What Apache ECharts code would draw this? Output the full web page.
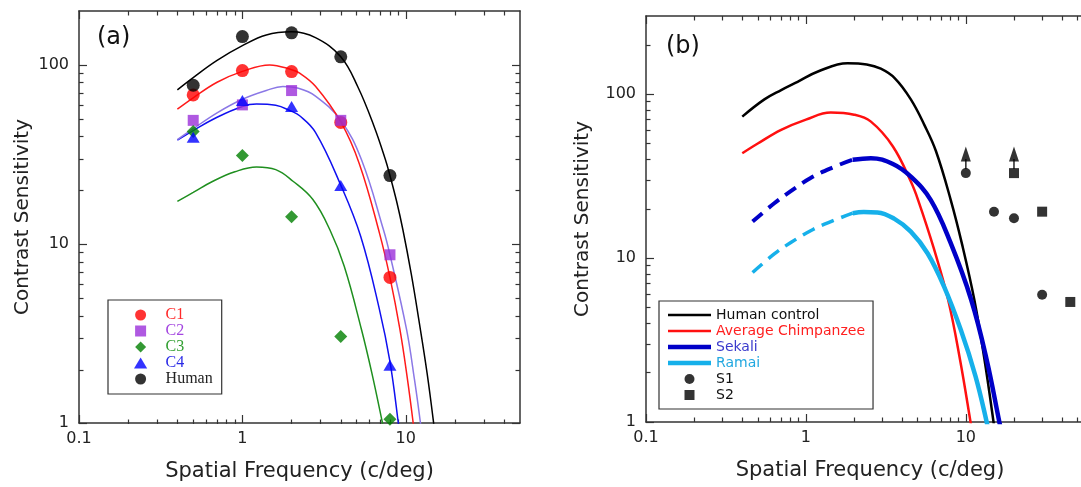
<!DOCTYPE html>
<html><head><meta charset="utf-8">
<script src="https://cdn.jsdelivr.net/npm/echarts@6/dist/echarts.min.js"></script>
<style>html,body{margin:0;padding:0;background:#fff}#c{width:1081px;height:487px}</style>
</head><body><div id="c"></div><script>
// ---------- Panel (a) data ----------
const freqA = [0.5, 1, 2, 4, 8];
const c1 = [68, 93, 91.8, 47.7, 6.5];
const c2 = [49, 59.8, 71.9, 49, 8.7];
const c3 = [42.5, 31.2, 14.2, 3.04, 1.05];
const c4 = [39.4, 63.2, 58.6, 21.2, 2.1];
const humanA = [77, 144, 151, 111, 24.1];

const fitHumanA_F = [0.4, 0.5, 0.7, 1, 1.4, 2, 2.8, 4, 5.1, 6.4, 7.5, 8, 8.8, 9.6, 10.8, 12, 13.5, 14.8, 15.6];
const fitHumanA_V = [72.6, 85, 106, 128, 147, 153, 142, 111, 75, 45.3, 29.6, 24.1, 17.2, 12, 6.8, 3.8, 1.9, 1.0, 0.65];
const fitC1_F = [0.4, 0.5, 0.7, 1, 1.47, 2, 2.24, 2.8, 4, 5.2, 6.9, 8, 9.2, 10.2, 11.1, 11.6];
const fitC1_V = [56.6, 65.5, 80, 92, 100, 94, 90, 76, 48, 28, 11.5, 6.5, 3.34, 1.8, 1.0, 0.7];
const fitC2_F = [0.4, 0.5, 0.7, 1, 1.4, 1.77, 2.2, 2.8, 4, 5.35, 7.3, 8, 10.1, 11.3, 12.3, 12.8];
const fitC2_V = [38.2, 44, 54, 64.3, 72, 75.7, 74, 67, 49, 29.6, 12, 8.7, 3.34, 1.75, 1.0, 0.75];
const fitC3_F = [0.4, 0.5, 0.66, 0.9, 1.22, 1.6, 2.04, 2.7, 3.43, 4.2, 5.35, 6.2, 7.2, 7.6];
const fitC3_V = [17.3, 19.4, 22.4, 25.3, 26.9, 26, 22.4, 17.7, 12, 7.5, 3.34, 1.9, 1.0, 0.78];
const fitC4_F = [0.4, 0.5, 0.7, 1, 1.22, 1.6, 2, 2.24, 2.8, 4, 5.3, 6.9, 8, 9, 9.5];
const fitC4_V = [38, 43, 51, 58.6, 60.4, 59.5, 55, 52, 42, 21.3, 11, 4.3, 2.2, 1.0, 0.65];

// ---------- Panel (b) data ----------
const fitHumanB_F = [0.4, 0.55, 0.7, 0.887, 1.2, 1.82, 2.4, 2.94, 3.6, 4.53, 5.5, 6.5, 8.05, 9.5, 11.3, 13, 14.9, 15.6];
const fitHumanB_V = [73, 93, 106, 119, 138, 154.6, 152, 143, 125, 93, 65, 45, 22.6, 12, 5.57, 2.5, 1.0, 0.7];
const chimpB_F = [0.4, 0.5, 0.7, 1, 1.43, 2, 2.55, 3.5, 4.53, 5.03, 6.3, 7.75, 9.2, 10.7, 11.2];
const chimpB_V = [43.6, 50, 60.6, 70, 77.3, 75, 68, 48, 29.3, 22.6, 11.5, 5.57, 2.4, 1.0, 0.75];
const sekaliDash_F = [0.464, 0.634, 0.8, 1.07, 1.5, 1.96];
const sekaliDash_V = [16.7, 21.6, 25.5, 30.8, 36, 39.8];
const sekali_F = [1.96, 2.55, 3.5, 4.53, 6.04, 8, 10.8, 13.5, 16.2, 17];
const sekali_V = [39.8, 40.7, 37.5, 31.4, 22.6, 12.5, 5.57, 2.4, 1.0, 0.8];
const ramaiDash_F = [0.464, 0.634, 0.8, 1.1, 1.5, 1.96];
const ramaiDash_V = [8.17, 10.6, 12.4, 14.9, 17, 18.8];
const ramai_F = [1.96, 2.3, 2.8, 3.56, 4.53, 5.76, 7.31, 9.3, 11.5, 13.5, 14.2];
const ramai_V = [18.8, 19.1, 19, 17.4, 14.5, 10.7, 6.7, 3.65, 1.9, 1.0, 0.78];
const s1_F = [10, 15, 20, 30];
const s1_V = [33, 19.2, 17.5, 5.97];
const s2_F = [20, 30, 45];
const s2_V = [33, 19.2, 5.4];
const arrow_F = [10, 20];          // lower-bound markers (arrows up)
const arrow_V = [33, 33];

// ---------- Ticks ----------
const xMajor = [0.1, 1, 10];
const xMinorA = [0.2, 0.3, 0.4, 0.5, 0.6, 0.7, 0.8, 0.9, 2, 3, 4, 5, 6, 7, 8, 9, 20, 30, 40];
const xMinorB = [0.2, 0.3, 0.4, 0.5, 0.6, 0.7, 0.8, 0.9, 2, 3, 4, 5, 6, 7, 8, 9, 20, 30, 40, 50];
const yMajor = [1, 10, 100];
const yMinorA = [2, 3, 4, 5, 6, 7, 8, 9, 20, 30, 40, 50, 60, 70, 80, 90];
const yMinorB = [2, 3, 4, 5, 6, 7, 8, 9, 20, 30, 40, 50, 60, 70, 80, 90, 200];

const FONT = "'DejaVu Sans', sans-serif";
const AX = '#333';
const pairs = (F, V) => F.map((f, i) => [f, V[i]]);
const fmt = v => String(+(+v).toPrecision(3));

function axis(opt) {
  const o = {
    type: 'log', logBase: 10, gridIndex: opt.grid, position: opt.pos,
    min: opt.min, max: opt.max, show: opt.show !== false,
    axisLine: { show: opt.line, onZero: false, lineStyle: { color: AX, width: 1.5 } },
    axisTick: { show: true, inside: true, length: opt.len, customValues: opt.ticks, lineStyle: { color: AX, width: 1.2 } },
    axisLabel: { show: false },
    splitLine: { show: false }, minorTick: { show: false }, minorSplitLine: { show: false }
  };
  if (opt.labels) {
    o.axisLabel = { show: true, customValues: opt.labels, formatter: fmt, margin: opt.margin,
      fontFamily: FONT, fontSize: 16, color: '#222' };
  }
  if (opt.name) {
    o.name = opt.name; o.nameLocation = 'middle'; o.nameGap = opt.nameGap;
    o.nameTextStyle = { fontFamily: FONT, fontSize: opt.nameSize, color: '#222', padding: opt.namePad || 0 };
  }
  return o;
}

const XMAXB = 52.5;
const xAxes = [
  axis({grid:0,pos:'bottom',min:0.1,max:50,line:true,len:8,ticks:xMajor,labels:xMajor,margin:8,name:'Spatial Frequency (c/deg)',nameGap:38,nameSize:21}),
  axis({grid:0,pos:'top',min:0.1,max:50,line:true,len:8,ticks:xMajor}),
  axis({grid:1,pos:'bottom',min:0.1,max:50,line:false,len:4.5,ticks:xMinorA}),
  axis({grid:1,pos:'top',min:0.1,max:50,line:false,len:4.5,ticks:xMinorA}),
  axis({grid:2,pos:'bottom',min:0.1,max:XMAXB,line:true,len:8,ticks:xMajor,labels:xMajor,margin:8,name:'Spatial Frequency (c/deg)',nameGap:38,nameSize:21,namePad:[0,0,0,13]}),
  axis({grid:2,pos:'top',min:0.1,max:XMAXB,line:true,len:8,ticks:xMajor}),
  axis({grid:3,pos:'bottom',min:0.1,max:XMAXB,line:false,len:4.5,ticks:xMinorB}),
  axis({grid:3,pos:'top',min:0.1,max:XMAXB,line:false,len:4.5,ticks:xMinorB})
];
const yAxes = [
  axis({grid:0,pos:'left',min:1,max:200,line:true,len:8,ticks:yMajor,labels:yMajor,margin:10,name:'Contrast Sensitivity',nameGap:46,nameSize:20}),
  axis({grid:0,pos:'right',min:1,max:200,line:true,len:8,ticks:yMajor}),
  axis({grid:1,pos:'left',min:1,max:200,line:false,len:4.5,ticks:yMinorA}),
  axis({grid:1,pos:'right',min:1,max:200,line:false,len:4.5,ticks:yMinorA}),
  axis({grid:2,pos:'left',min:1,max:300,line:true,len:8,ticks:yMajor,labels:yMajor,margin:10,name:'Contrast Sensitivity',nameGap:53,nameSize:20}),
  axis({grid:2,pos:'right',min:1,max:300,line:false,len:8,ticks:yMajor,show:false}),
  axis({grid:3,pos:'left',min:1,max:300,line:false,len:4.5,ticks:yMinorB}),
  axis({grid:3,pos:'right',min:1,max:300,line:false,len:4.5,ticks:yMinorB,show:false})
];

const gA = { left: 79, right: 561, top: 11, bottom: 63 };
const gB = { left: 646, right: 0, top: 16, bottom: 65 };

function fit(name, F, V, color, width, xi, dash) {
  return { name, type: 'line', xAxisIndex: xi, yAxisIndex: xi, data: pairs(F, V),
    showSymbol: false, symbol: 'none', smooth: 0.4, clip: true, z: 2, silent: true,
    color, lineStyle: { color, width, type: dash || 'solid', cap: 'butt' } };
}
function pts(name, F, V, color, symbol, size, xi, extra) {
  return Object.assign({ name, type: 'scatter', xAxisIndex: xi, yAxisIndex: xi, data: pairs(F, V),
    symbol, symbolSize: size, color, itemStyle: { color }, z: 4, silent: true }, extra || {});
}

const series = [
  fit('fitC3', fitC3_F, fitC3_V, '#1f8f1f', 1.5, 0),
  fit('fitC4', fitC4_F, fitC4_V, '#1010f0', 1.5, 0),
  fit('fitC2', fitC2_F, fitC2_V, '#8b78e6', 1.5, 0),
  fit('fitC1', fitC1_F, fitC1_V, '#ff1a1a', 1.5, 0),
  fit('fitHumanA', fitHumanA_F, fitHumanA_V, '#000000', 1.5, 0),
  pts('C1', freqA, c1, '#ff0000', 'circle', 13, 0),
  pts('C2', freqA, c2, '#9b30d9', 'rect', 11, 0),
  pts('C3', freqA, c3, '#008000', 'diamond', [13, 13], 0),
  pts('C4', freqA, c4, '#0000ff', 'triangle', [13, 11], 0),
  pts('Human', freqA, humanA, '#000000', 'circle', 13, 0),

  fit('Human control', fitHumanB_F, fitHumanB_V, '#000000', 2.5, 4),
  fit('Average Chimpanzee', chimpB_F, chimpB_V, '#ff1010', 2.5, 4),
  fit('Sekali-ext', sekaliDash_F, sekaliDash_V, '#0000c8', 4, 4, [13, 8]),
  fit('Sekali', sekali_F, sekali_V, '#0000c8', 4.5, 4),
  fit('Ramai-ext', ramaiDash_F, ramaiDash_V, '#16b0ea', 3.5, 4, [13, 8]),
  fit('Ramai', ramai_F, ramai_V, '#16b0ea', 4.5, 4),
  pts('S1', s1_F, s1_V, '#000000', 'circle', 10, 4),
  pts('S2', s2_F, s2_V, '#000000', 'rect', 10, 4),
  pts('arrowStem', arrow_F, arrow_V, '#000000', 'rect', [1.6, 10], 4, { symbolOffset: [0, -9], z: 5 }),
  pts('arrowHead', arrow_F, arrow_V, '#000000', 'triangle', [10, 15], 4, { symbolOffset: [0, -19], z: 5 })
];

const li = (name, icon, color, textColor) => ({ name, icon, itemStyle: { color, borderWidth: 0 }, textStyle: { color: textColor } });

const option = {
  animation: false,
  backgroundColor: '#ffffff',
  grid: [gA, gA, gB, gB],
  xAxis: xAxes,
  yAxis: yAxes,
  legend: [
    { orient: 'vertical', left: 108, top: 300, padding: [7, 9, 7, 26], itemWidth: 40, itemHeight: 11, itemGap: 0,
      borderColor: '#333', borderWidth: 1.2, backgroundColor: '#fff', selectedMode: false, symbolKeepAspect: true,
      textStyle: { fontFamily: "'Liberation Serif', serif", fontSize: 16 },
      data: [
        li('C1', 'circle', '#ff0000', '#ff2a2a'),
        li('C2', 'path://M0,0H10V10H0Z', '#9b30d9', '#a446e0'),
        li('C3', 'path://M6,0L12,6L6,12L0,6Z', '#008000', '#33a033'),
        li('C4', 'path://M6,0L12,10L0,10Z', '#0000ff', '#2a2ae6'),
        li('Human', 'circle', '#000000', '#222')
      ] },
    { orient: 'vertical', left: 659, top: 301, padding: [7, 8, 7, 9], itemWidth: 43, itemHeight: 10, itemGap: 2,
      borderColor: '#333', borderWidth: 1.2, backgroundColor: '#fff', selectedMode: false, symbolKeepAspect: true,
      textStyle: { fontFamily: FONT, fontSize: 14 },
      data: [
        li('Human control', 'path://M0,0H43V2.5H0Z', '#000000', '#111'),
        li('Average Chimpanzee', 'path://M0,0H43V2.5H0Z', '#ff1010', '#ff2020'),
        li('Sekali', 'path://M0,0H43V4.5H0Z', '#0000c8', '#3a3acc'),
        li('Ramai', 'path://M0,0H43V4.5H0Z', '#16b0ea', '#22a8e0'),
        li('S1', 'circle', '#000000', '#111'),
        li('S2', 'path://M0,0H9V9H0Z', '#000000', '#111')
      ] }
  ],
  graphic: [
    { type: 'text', left: 97, top: 26, style: { text: '(a)', font: "24px 'DejaVu Sans'", fill: '#111' } },
    { type: 'text', left: 666, top: 35, style: { text: '(b)', font: "24px 'DejaVu Sans'", fill: '#111' } }
  ],
  series
};

const chart = echarts.init(document.getElementById('c'), null, { renderer: 'canvas' });
chart.setOption(option);
</script></body></html>
